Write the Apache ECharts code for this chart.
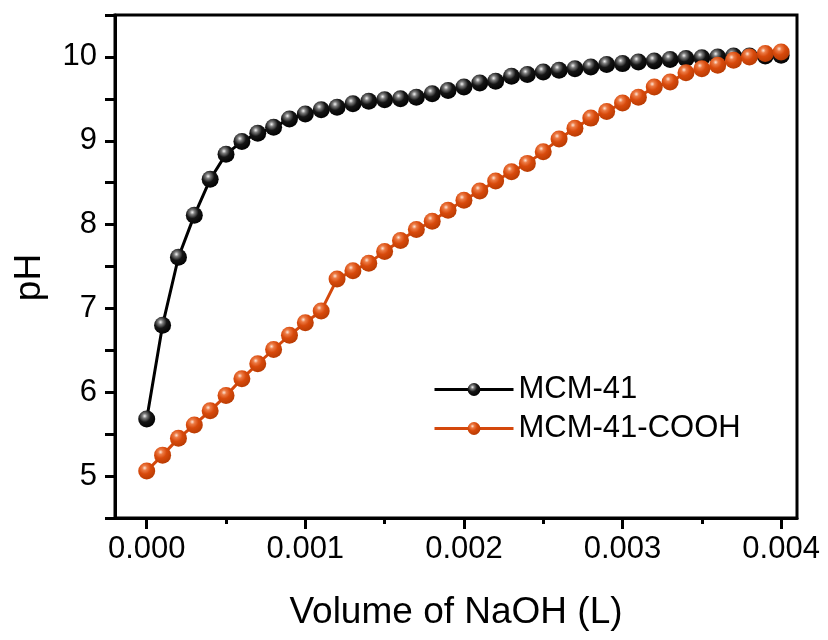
<!DOCTYPE html>
<html>
<head>
<meta charset="utf-8">
<script src="https://cdn.jsdelivr.net/npm/echarts@6/dist/echarts.min.js"></script>
<style>html,body{margin:0;padding:0;background:#fff}#c{width:828px;height:640px}</style>
</head>
<body>
<div id="c"></div>
<script>
// Volume of NaOH (L)
const volumes = [0,0.0001,0.0002,0.0003,0.0004,0.0005,0.0006,0.0007,0.0008,0.0009,
  0.0010,0.0011,0.0012,0.0013,0.0014,0.0015,0.0016,0.0017,0.0018,0.0019,
  0.0020,0.0021,0.0022,0.0023,0.0024,0.0025,0.0026,0.0027,0.0028,0.0029,
  0.0030,0.0031,0.0032,0.0033,0.0034,0.0035,0.0036,0.0037,0.0038,0.0039,0.0040];
const phMCM41 = [5.68,6.80,7.61,8.11,8.54,8.84,8.99,9.09,9.16,9.26,
  9.32,9.37,9.40,9.44,9.47,9.49,9.50,9.52,9.56,9.60,
  9.64,9.69,9.71,9.77,9.79,9.82,9.84,9.86,9.88,9.91,
  9.92,9.94,9.95,9.97,9.98,9.99,10.00,10.01,10.01,10.01,10.02];
const phMCM41COOH = [5.06,5.25,5.45,5.61,5.78,5.96,6.16,6.34,6.51,6.68,
  6.83,6.97,7.35,7.45,7.54,7.68,7.81,7.94,8.04,8.17,
  8.29,8.40,8.52,8.63,8.73,8.87,9.02,9.15,9.27,9.35,
  9.45,9.52,9.64,9.70,9.81,9.86,9.90,9.96,10.00,10.04,10.06];
const seriesNames = ['MCM-41','MCM-41-COOH'];
const xMajorTicks = [0,0.001,0.002,0.003,0.004];
const xMinorTicks = [0.0005,0.0015,0.0025,0.0035];
const yTickLabels = [5,6,7,8,9,10];

const FONT = 'Liberation Sans, Arial, sans-serif';
function ball(light, mid, dark, edge){
  return {type:'radial', x:0.38, y:0.32, r:0.72, colorStops:[
    {offset:0, color:light},{offset:0.2, color:mid},{offset:0.5, color:dark},{offset:1, color:edge}]};
}
const chart = echarts.init(document.getElementById('c'), null, {renderer:'canvas'});
chart.setOption({
  animation:false,
  backgroundColor:'#fff',
  grid:{left:115, right:31, top:15, bottom:122, show:true, borderColor:'#000', borderWidth:3, containLabel:false},
  legend:{
    orient:'vertical', left:428, top:369,
    itemWidth:79, itemHeight:16, itemGap:8,
    lineStyle:{width:3},
    textStyle:{fontFamily:FONT, fontSize:31, color:'#000', lineHeight:30},
    data:seriesNames
  },
  xAxis:[{
    type:'value', min:-0.0002, max:0.0041,
    name:'Volume of NaOH (L)', nameLocation:'middle', nameGap:76,
    nameTextStyle:{fontFamily:FONT, fontSize:37, color:'#000'},
    axisLine:{show:true, onZero:false, lineStyle:{color:'#000', width:3}},
    axisTick:{show:true, inside:false, length:11, lineStyle:{color:'#000', width:3}, customValues:xMajorTicks},
    axisLabel:{fontFamily:FONT, fontSize:31, color:'#000', margin:16, customValues:xMajorTicks,
      formatter:v=>v.toFixed(3)},
    splitLine:{show:false}
  },{
    type:'value', min:-0.0002, max:0.0041, position:'bottom',
    axisLine:{show:false},
    axisTick:{show:true, inside:false, length:6, lineStyle:{color:'#000', width:3}, customValues:xMinorTicks},
    axisLabel:{show:false},
    splitLine:{show:false}
  }],
  yAxis:{
    type:'value', min:4.5, max:10.5, interval:0.5,
    name:'pH', nameLocation:'middle', nameGap:67,
    nameTextStyle:{fontFamily:FONT, fontSize:37, color:'#000', padding:[0,22,0,0]},
    axisLine:{show:true, onZero:false, lineStyle:{color:'#000', width:3}},
    axisTick:{show:true, inside:false, length:10, lineStyle:{color:'#000', width:3}},
    axisLabel:{fontFamily:FONT, fontSize:31, color:'#000', margin:18, customValues:yTickLabels},
    splitLine:{show:false}
  },
  series:[{
    name:seriesNames[0], type:'line', xAxisIndex:0,
    data:volumes.map((v,i)=>[v, phMCM41[i]]),
    symbol:'circle', symbolSize:17,
    lineStyle:{color:'#000', width:3},
    itemStyle:{color:ball('#f4f4f4','#7a7a7a','#151515','#000'), borderWidth:0},
    emphasis:{disabled:true}
  },{
    name:seriesNames[1], type:'line', xAxisIndex:0,
    data:volumes.map((v,i)=>[v, phMCM41COOH[i]]),
    symbol:'circle', symbolSize:17,
    lineStyle:{color:'#d4480c', width:3},
    itemStyle:{color:ball('#fde6d8','#ec7a44','#d84a0c','#b63a02'), borderWidth:0},
    emphasis:{disabled:true}
  }]
});
</script>
</body>
</html>
